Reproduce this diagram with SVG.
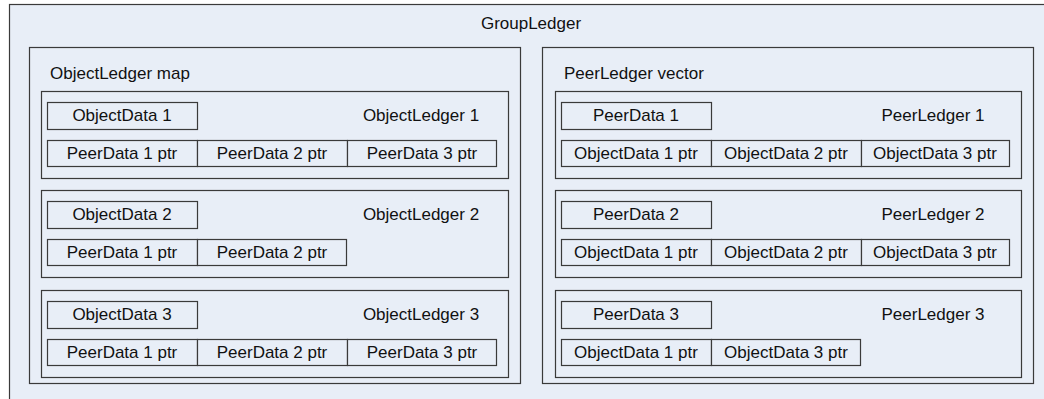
<svg xmlns="http://www.w3.org/2000/svg" width="1044" height="399" viewBox="0 0 1044 399">
  <style>
    rect { fill: #E8EEF7; stroke: #3a3a3a; stroke-width: 1.2; }
    text { font-family: "Liberation Sans", Arial, sans-serif; font-size: 17px; fill: #111; }
    .c { text-anchor: middle; }
  </style>
  <rect width="1044" height="399" style="fill:#ffffff;stroke:none"/>

  <!-- outer container -->
  <g id="group-ledger">
    <rect x="9.5" y="4.5" width="1060" height="420"/>
    <text class="c" x="531" y="28.5">GroupLedger</text>
  </g>

  <!-- left column: map of object ledgers -->
  <g id="object-ledger-map">
    <rect x="29.5" y="47.5" width="491" height="336"/>
    <text x="50" y="78.5">ObjectLedger map</text>
  </g>

  <g id="object-ledger-1">
    <rect x="41.5" y="91.5" width="467" height="87"/>
    <rect x="47.5" y="102.5" width="150" height="27"/>
    <text class="c" x="122" y="121">ObjectData 1</text>
    <text class="c" x="421" y="121">ObjectLedger 1</text>
    <rect x="47.5" y="140.5" width="150" height="26"/>
    <rect x="197.5" y="140.5" width="150" height="26"/>
    <rect x="347.5" y="140.5" width="149" height="26"/>
    <text class="c" x="122" y="159">PeerData 1 ptr</text>
    <text class="c" x="272" y="159">PeerData 2 ptr</text>
    <text class="c" x="422" y="159">PeerData 3 ptr</text>
  </g>

  <g id="object-ledger-2">
    <rect x="41.5" y="190.5" width="467" height="87"/>
    <rect x="47.5" y="201.5" width="150" height="27"/>
    <text class="c" x="122" y="220">ObjectData 2</text>
    <text class="c" x="421" y="220">ObjectLedger 2</text>
    <rect x="47.5" y="239.5" width="150" height="26"/>
    <rect x="197.5" y="239.5" width="149" height="26"/>
    <text class="c" x="122" y="258">PeerData 1 ptr</text>
    <text class="c" x="272" y="258">PeerData 2 ptr</text>
  </g>

  <g id="object-ledger-3">
    <rect x="41.5" y="290.5" width="467" height="87"/>
    <rect x="47.5" y="301.5" width="150" height="27"/>
    <text class="c" x="122" y="320">ObjectData 3</text>
    <text class="c" x="421" y="320">ObjectLedger 3</text>
    <rect x="47.5" y="339.5" width="150" height="26"/>
    <rect x="197.5" y="339.5" width="150" height="26"/>
    <rect x="347.5" y="339.5" width="149" height="26"/>
    <text class="c" x="122" y="358">PeerData 1 ptr</text>
    <text class="c" x="272" y="358">PeerData 2 ptr</text>
    <text class="c" x="422" y="358">PeerData 3 ptr</text>
  </g>

  <!-- right column: vector of peer ledgers -->
  <g id="peer-ledger-vector">
    <rect x="542.5" y="47.5" width="491" height="336"/>
    <text x="564" y="78.5">PeerLedger vector</text>
  </g>

  <g id="peer-ledger-1">
    <rect x="555.5" y="91.5" width="466" height="87"/>
    <rect x="561.5" y="102.5" width="150" height="27"/>
    <text class="c" x="636" y="121">PeerData 1</text>
    <text class="c" x="933" y="121">PeerLedger 1</text>
    <rect x="561.5" y="140.5" width="150" height="26"/>
    <rect x="711.5" y="140.5" width="150" height="26"/>
    <rect x="861.5" y="140.5" width="148" height="26"/>
    <text class="c" x="636" y="159">ObjectData 1 ptr</text>
    <text class="c" x="786" y="159">ObjectData 2 ptr</text>
    <text class="c" x="935" y="159">ObjectData 3 ptr</text>
  </g>

  <g id="peer-ledger-2">
    <rect x="555.5" y="190.5" width="466" height="87"/>
    <rect x="561.5" y="201.5" width="150" height="27"/>
    <text class="c" x="636" y="220">PeerData 2</text>
    <text class="c" x="933" y="220">PeerLedger 2</text>
    <rect x="561.5" y="239.5" width="150" height="26"/>
    <rect x="711.5" y="239.5" width="150" height="26"/>
    <rect x="861.5" y="239.5" width="148" height="26"/>
    <text class="c" x="636" y="258">ObjectData 1 ptr</text>
    <text class="c" x="786" y="258">ObjectData 2 ptr</text>
    <text class="c" x="935" y="258">ObjectData 3 ptr</text>
  </g>

  <g id="peer-ledger-3">
    <rect x="555.5" y="290.5" width="466" height="87"/>
    <rect x="561.5" y="301.5" width="150" height="27"/>
    <text class="c" x="636" y="320">PeerData 3</text>
    <text class="c" x="933" y="320">PeerLedger 3</text>
    <rect x="561.5" y="339.5" width="150" height="26"/>
    <rect x="711.5" y="339.5" width="149" height="26"/>
    <text class="c" x="636" y="358">ObjectData 1 ptr</text>
    <text class="c" x="786" y="358">ObjectData 3 ptr</text>
  </g>
</svg>
